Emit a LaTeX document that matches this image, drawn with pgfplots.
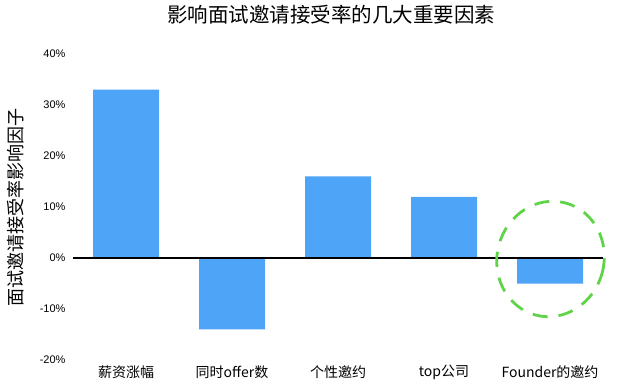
\documentclass[border=0pt]{standalone}
\usepackage{pgfplots}
\pgfplotsset{compat=1.18}
\usepackage{fontspec}
\setmainfont{Liberation Sans}
\newfontfamily\cjk{Noto Sans CJK SC}
\definecolor{barblue}{RGB}{78,164,246}
\definecolor{ringgreen}{RGB}{96,212,72}
\begin{document}
\begin{tikzpicture}
\useasboundingbox (0,0) rectangle (623bp,392bp);
\begin{axis}[
  at={(73bp,32bp)}, anchor=south west,
  scale only axis, width=530bp, height=306bp,
  xmin=-0.5, xmax=4.5, ymin=-20, ymax=40,
  ytick={-20,-10,...,40},
  yticklabel={\pgfmathprintnumber{\tick}\%},
  /pgf/number format/assume math mode=true,
  xtick={0,...,4},
  xticklabels={薪资涨幅,同时offer数,个性邀约,top公司,Founder的邀约},
  axis line style={draw=none},
  major tick style={draw=none},
  clip=false,
  yticklabel style={font=\fontsize{11bp}{13bp}\selectfont, xshift=-4bp},
  xticklabel style={font=\cjk\fontsize{14bp}{16bp}\selectfont, yshift=-2bp},
  ylabel={面试邀请接受率影响因子},
  ylabel style={at={(axis description cs:-0.109,0.5)}, anchor=center, font=\cjk\fontsize{18bp}{20bp}\selectfont},
  title={影响面试邀请接受率的几大重要因素},
  title style={at={(axis description cs:0.487,1)}, anchor=center, yshift=33bp, font=\cjk\fontsize{20.5bp}{23bp}\selectfont},
]
\addplot[ybar, bar width=66bp, fill=barblue, draw=none] coordinates {(0,33) (1,-14) (2,16) (3,12) (4,-5)};
\addplot[black, line width=2bp] coordinates {(-0.5,0) (4.5,0)};
\end{axis}
\draw[ringgreen, line width=2.8bp, dash pattern=on 15bp off 11bp, rotate around={-15:(550.5bp,133bp)}] (550.5bp,133bp) ellipse [x radius=53.5bp, y radius=58bp];
\end{tikzpicture}
\end{document}
